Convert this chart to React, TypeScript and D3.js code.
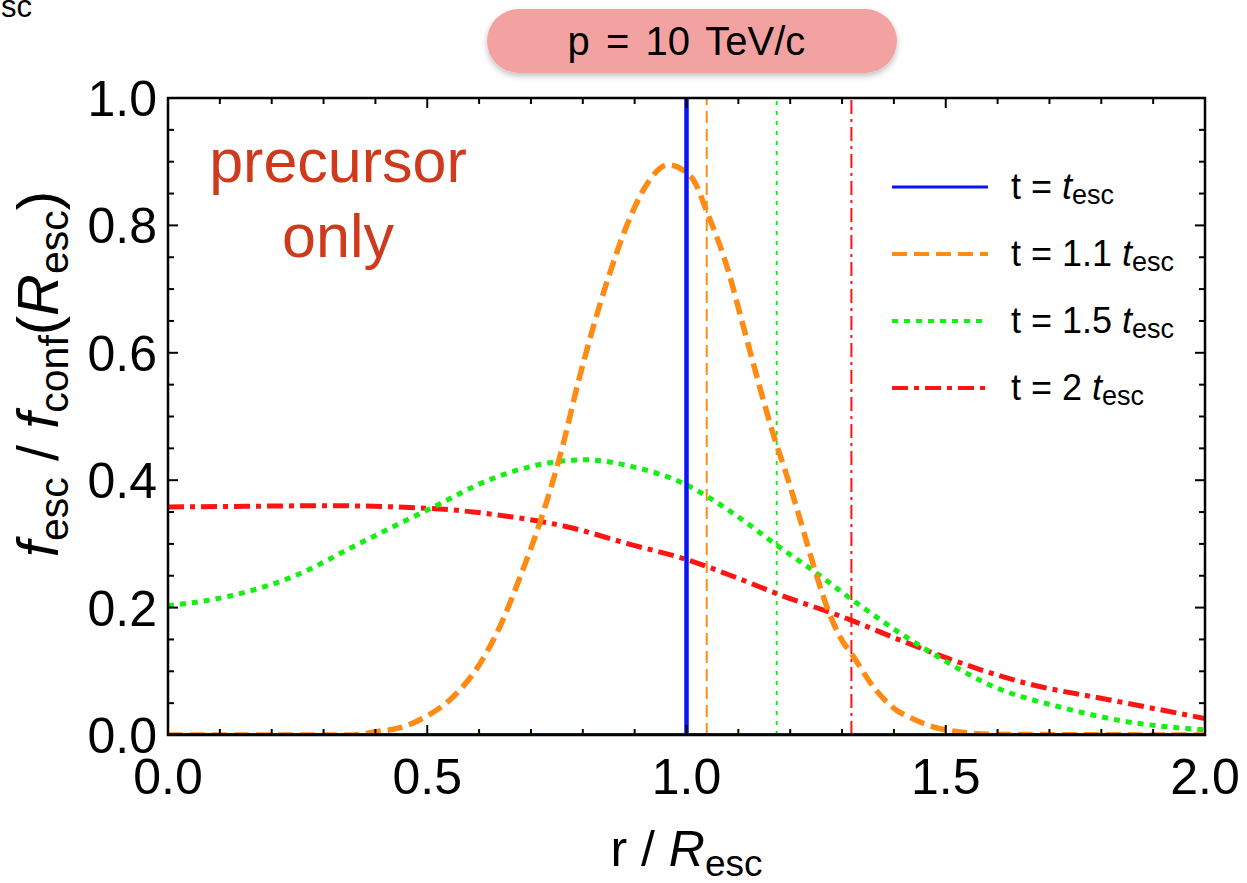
import React from "react";
import * as d3 from "d3";

// ---------- data ----------
const xTicksMajor = [0, 0.5, 1.0, 1.5, 2.0];
const xTickLabels = ["0.0", "0.5", "1.0", "1.5", "2.0"];
const yTicksMajor = [0, 0.2, 0.4, 0.6, 0.8, 1.0];
const yTickLabels = ["0.0", "0.2", "0.4", "0.6", "0.8", "1.0"];
const xTicksMinor = d3.range(0, 2.0001, 0.1);
const yTicksMinor = d3.range(0, 1.0001, 0.05);

// t = 1.1 t_esc
const orangeR = [0, 0.35, 0.40, 0.45, 0.50, 0.55, 0.60, 0.64, 0.68, 0.72, 0.76, 0.79, 0.82, 0.85, 0.885, 0.92, 0.965, 1.01, 1.04, 1.08, 1.11, 1.14, 1.17, 1.19, 1.22, 1.245, 1.27, 1.296, 1.322, 1.36, 1.405, 1.43, 1.5, 1.6, 2.0];
const orangeV = [0, 0, 0.005, 0.012, 0.03, 0.06, 0.11, 0.17, 0.25, 0.34, 0.45, 0.55, 0.64, 0.72, 0.80, 0.86, 0.895, 0.875, 0.82, 0.73, 0.64, 0.55, 0.465, 0.416, 0.336, 0.266, 0.203, 0.154, 0.123, 0.076, 0.039, 0.028, 0.008, 0.001, 0];
// t = 1.5 t_esc
const greenR = [0, 0.113, 0.242, 0.37, 0.512, 0.627, 0.75, 0.807, 0.897, 0.994, 1.09, 1.174, 1.251, 1.315, 1.412, 1.495, 1.592, 1.72, 1.849, 2.0];
const greenV = [0.203, 0.217, 0.249, 0.301, 0.358, 0.403, 0.429, 0.432, 0.421, 0.395, 0.348, 0.298, 0.254, 0.215, 0.16, 0.118, 0.076, 0.044, 0.021, 0.008];
// t = 2 t_esc
const redR = [0, 0.15, 0.306, 0.499, 0.64, 0.769, 0.897, 0.994, 1.09, 1.174, 1.315, 1.412, 1.495, 1.656, 1.817, 2.0];
const redV = [0.358, 0.359, 0.360, 0.356, 0.345, 0.327, 0.298, 0.277, 0.249, 0.222, 0.181, 0.149, 0.123, 0.081, 0.055, 0.026];
// t = t_esc : zero everywhere, spike at r = 1
const blueR = [0, 2.0];
const blueV = [0, 0];
const blueSpikeR = 1.0;
// escape-radius markers for each time
const markerR = [1.0, 1.039, 1.174, 1.318];

const legendLabels = ["t = ", "t = 1.1 ", "t = 1.5 ", "t = 2 "];

// ---------- layout ----------
const W = 1247, H = 883;
const L = 168, R = 1205, T = 98, B = 735;
const FONT = "'Liberation Sans', Arial, Helvetica, sans-serif";

const COL_BLUE = "#0a14f5";
const COL_ORANGE = "#ff8a14";
const COL_GREEN = "#14f014";
const COL_RED = "#ff1414";

export default function App() {
  const x = d3.scaleLinear().domain([0, 2]).range([L, R]);
  const y = d3.scaleLinear().domain([0, 1]).range([B, T]);
  const line = d3
    .line<[number, number]>()
    .x((d) => x(d[0]))
    .y((d) => y(d[1]))
    .curve(d3.curveMonotoneX);
  const zip = (a: number[], b: number[]) => a.map((v, i) => [v, b[i]] as [number, number]);

  const styles = [
    { color: COL_BLUE, dash: "none", w: 4 },
    { color: COL_ORANGE, dash: "15 7", w: 5 },
    { color: COL_GREEN, dash: "6 6", w: 5 },
    { color: COL_RED, dash: "16 6 5 6", w: 5 },
  ];
  const thinDash = ["none", "12 6", "4 6", "14 5 3 5"];

  const legendY = [187, 254, 321, 388];

  return (
    <svg width={W} height={H} style={{ position: "absolute", left: 0, top: 0 }} fontFamily={FONT}>
      <defs>
        <filter id="shadow" x="-10%" y="-30%" width="120%" height="170%">
          <feDropShadow dx="0" dy="3" stdDeviation="3" floodColor="#000" floodOpacity="0.25" />
        </filter>
        <clipPath id="plotclip">
          <rect x={L} y={T} width={R - L} height={B - T} />
        </clipPath>
      </defs>
      <rect width={W} height={H} fill="#fff" />

      {/* clipped label fragment */}
      <text x={1} y={17} fontSize={31} fill="#000">sc</text>

      {/* title pill */}
      <rect x={487} y={9} width={410} height={64} rx={32} fill="#f2a3a1" filter="url(#shadow)" />
      <text x={x(1)} y={55} fontSize={40} textAnchor="middle" wordSpacing={5} fill="#000">
        p = 10 TeV/c
      </text>

      {/* curves */}
      <g clipPath="url(#plotclip)" fill="none">
        {markerR.slice(1).map((m, i) => (
          <line key={i} x1={x(m)} x2={x(m)} y1={y(0)} y2={y(1)}
            stroke={styles[i + 1].color} strokeWidth={2} strokeDasharray={thinDash[i + 1]} />
        ))}
        <path d={line(zip(redR, redV)) || ""} stroke={COL_RED} strokeWidth={5} strokeDasharray={styles[3].dash} />
        <path d={line(zip(greenR, greenV)) || ""} stroke={COL_GREEN} strokeWidth={5} strokeDasharray={styles[2].dash} />
        <path d={line(zip(orangeR, orangeV)) || ""} stroke={COL_ORANGE} strokeWidth={5.5} strokeDasharray={styles[1].dash} />
        <path d={line(zip(blueR, blueV)) || ""} stroke={COL_BLUE} strokeWidth={4} />
        <line x1={x(blueSpikeR)} x2={x(blueSpikeR)} y1={y(0)} y2={y(1)} stroke={COL_BLUE} strokeWidth={4.5} />
      </g>

      {/* frame */}
      <rect x={L} y={T} width={R - L} height={B - T} fill="none" stroke="#000" strokeWidth={2.5} />

      {/* ticks */}
      <g stroke="#000" strokeWidth={2}>
        {xTicksMinor.map((t, i) => {
          const major = Math.abs(t * 2 - Math.round(t * 2)) < 1e-6;
          const len = major ? 10 : 6;
          return (
            <g key={"xt" + i}>
              <line x1={x(t)} x2={x(t)} y1={B} y2={B - len} />
              <line x1={x(t)} x2={x(t)} y1={T} y2={T + len} />
            </g>
          );
        })}
        {yTicksMinor.map((t, i) => {
          const major = Math.abs(t * 5 - Math.round(t * 5)) < 1e-6;
          const len = major ? 10 : 6;
          return (
            <g key={"yt" + i}>
              <line x1={L} x2={L + len} y1={y(t)} y2={y(t)} />
              <line x1={R} x2={R - len} y1={y(t)} y2={y(t)} />
            </g>
          );
        })}
      </g>

      {/* tick labels */}
      <g fontSize={50} fill="#000">
        {xTicksMajor.map((t, i) => (
          <text key={"xl" + i} x={x(t)} y={794} textAnchor="middle">{xTickLabels[i]}</text>
        ))}
        {yTicksMajor.map((t, i) => (
          <text key={"yl" + i} x={157} y={y(t) + 18} textAnchor="end">{yTickLabels[i]}</text>
        ))}
      </g>

      {/* axis labels */}
      <text x={x(1)} y={866} fontSize={50} textAnchor="middle" fill="#000">
        r / <tspan fontStyle="italic">R</tspan>
        <tspan fontSize={37} dy={10}>esc</tspan>
      </text>
      <text transform={`translate(58, 374) rotate(-90)`} fontSize={58} textAnchor="middle" fill="#000">
        <tspan fontStyle="italic">f</tspan>
        <tspan fontSize={41} dy={10}>esc</tspan>
        <tspan dy={-10}> / </tspan>
        <tspan fontStyle="italic">f</tspan>
        <tspan fontSize={41} dy={10}>conf</tspan>
        <tspan dy={-10}>(</tspan>
        <tspan fontStyle="italic">R</tspan>
        <tspan fontSize={41} dy={10}>esc</tspan>
        <tspan dy={-10}>)</tspan>
      </text>

      {/* annotation */}
      <g fill="#cf3a1c" fontSize={61} textAnchor="middle">
        <text x={338} y={182}>precursor</text>
        <text x={338} y={257}>only</text>
      </g>

      {/* legend */}
      {legendLabels.map((lab, i) => (
        <g key={"lg" + i}>
          <line x1={892} x2={988} y1={legendY[i]} y2={legendY[i]} stroke={styles[i].color}
            strokeWidth={styles[i].w - 1} strokeDasharray={styles[i].dash} />
          <text x={1011} y={legendY[i] + 12} fontSize={36} fill="#000">
            {lab}
            <tspan fontStyle="italic">t</tspan>
            <tspan fontSize={27} dy={5}>esc</tspan>
          </text>
        </g>
      ))}
    </svg>
  );
}
